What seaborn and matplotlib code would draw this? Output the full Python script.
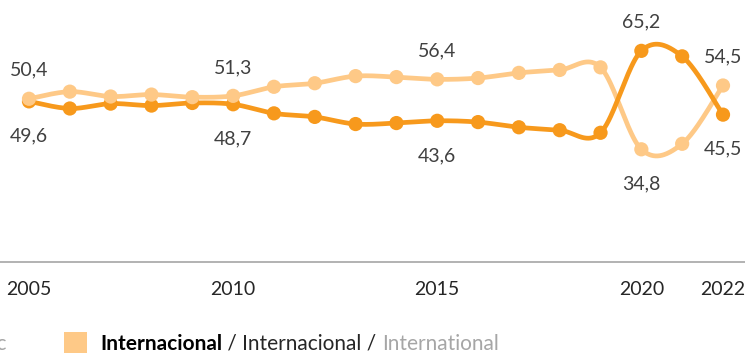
import numpy as np
import pandas as pd
import matplotlib
matplotlib.use("Agg")
import matplotlib.pyplot as plt
import seaborn as sns
from matplotlib.patches import Rectangle

# Share of passengers (%) by year
years = list(range(2005, 2023))
domestico = [49.6, 47.4, 48.9, 48.3, 49.1, 48.7, 45.9, 44.8, 42.6, 42.9,
             43.6, 43.2, 41.6, 40.7, 39.9, 65.2, 63.5, 45.5]
internacional = [50.4, 52.6, 51.1, 51.7, 50.9, 51.3, 54.1, 55.2, 57.4, 57.1,
                 56.4, 56.8, 58.4, 59.3, 60.1, 34.8, 36.5, 54.5]
label_years = [2005, 2010, 2015, 2020, 2022]
tick_years = [2005, 2010, 2015, 2020, 2022]
legend_parts = ["Internacional", " / Internacional / ", "International"]
legend_prev = "Domestic"

DARK = "#F7991C"
LIGHT = "#FEC987"
TEXT = "#404040"

sns.set_theme(style="white")
plt.rcParams["font.family"] = ["Lato", "DejaVu Sans"]


def smooth(xs, ys, n=40):
    """Catmull-Rom style Bezier smoothing through every data point."""
    x = np.asarray(xs, float)
    y = np.asarray(ys, float)
    px = np.concatenate([[x[0]], x, [x[-1]]])
    py = np.concatenate([[y[0]], y, [y[-1]]])
    t = np.linspace(0, 1, n, endpoint=False)
    ox, oy = [], []
    for i in range(1, len(x)):
        p0x, p1x, p2x, p3x = px[i - 1], px[i], px[i + 1], px[i + 2]
        p0y, p1y, p2y, p3y = py[i - 1], py[i], py[i + 1], py[i + 2]
        c1x, c1y = p1x + (p2x - p0x) / 6, p1y + (p2y - p0y) / 6
        c2x, c2y = p2x - (p3x - p1x) / 6, p2y - (p3y - p1y) / 6
        a, b, c, d = (1 - t) ** 3, 3 * (1 - t) ** 2 * t, 3 * (1 - t) * t ** 2, t ** 3
        ox.append(a * p1x + b * c1x + c * c2x + d * p2x)
        oy.append(a * p1y + b * c1y + c * c2y + d * p2y)
    ox.append([x[-1]])
    oy.append([y[-1]])
    return np.concatenate(ox), np.concatenate(oy)


pts = pd.DataFrame({
    "year": years * 2,
    "share": domestico + internacional,
    "serie": ["Doméstico"] * len(years) + ["Internacional"] * len(years),
})

curves = []
for name, vals in [("Internacional", internacional), ("Doméstico", domestico)]:
    sx, sy = smooth(years, vals)
    curves.append(pd.DataFrame({"year": sx, "share": sy, "serie": name}))
curves = pd.concat(curves, ignore_index=True)

palette = {"Doméstico": DARK, "Internacional": LIGHT}

fig = plt.figure(figsize=(7.45, 3.54), dpi=100)
ax = fig.add_axes([0, 92 / 354, 1, 262 / 354])

sns.lineplot(data=curves, x="year", y="share", hue="serie", palette=palette,
             hue_order=["Internacional", "Doméstico"], sort=False,
             estimator=None, lw=3.4, legend=False, ax=ax)
sns.scatterplot(data=pts, x="year", y="share", hue="serie", palette=palette,
                hue_order=["Doméstico", "Internacional"], s=105,
                linewidth=0, legend=False, ax=ax, zorder=5)

# value labels: the higher series above its point, the lower one below
for yr in label_years:
    i = years.index(yr)
    d, n = domestico[i], internacional[i]
    for v in (d, n):
        above = v >= max(d, n)
        ax.annotate(f"{v:.1f}".replace(".", ","), (yr, v),
                    xytext=(0, 20.5 if above else -25), textcoords="offset points",
                    ha="center", va="center", fontsize=14, color=TEXT)

ax.set_xlim(2005 - 29 / 40.82, 2022 + 22 / 40.82)
ax.set_ylim(0, 80.9)
ax.set_xticks(tick_years)
ax.set_xticklabels([str(y) for y in tick_years])
ax.set_yticks([])
ax.set_xlabel("")
ax.set_ylabel("")
ax.tick_params(axis="x", length=0, pad=14, labelsize=14, labelcolor="#262626")
for side in ["top", "right", "left"]:
    ax.spines[side].set_visible(False)
ax.spines["bottom"].set_color("#A6A6A6")
ax.spines["bottom"].set_linewidth(1.2)

# legend row
fig.text(7 / 745, 10 / 354, legend_prev, ha="right", va="center",
         fontsize=15, color="#A6A6A6")
fig.patches.append(Rectangle((64 / 745, 1 / 354), 23 / 745, 21 / 354,
                             transform=fig.transFigure, facecolor=LIGHT,
                             edgecolor="none"))
t1 = fig.text(100 / 745, 10 / 354, legend_parts[0], ha="left", va="center",
              fontsize=15, fontweight="bold", color="#000000")
t2 = ax.annotate(legend_parts[1], xy=(1, 0.5), xycoords=t1, ha="left",
                 va="center", fontsize=15, color="#262626",
                 annotation_clip=False)
t3 = ax.annotate(legend_parts[2], xy=(1, 0.5), xycoords=t2, ha="left",
                 va="center", fontsize=15, color="#A6A6A6",
                 annotation_clip=False)

fig.savefig("out.png", dpi=100)
